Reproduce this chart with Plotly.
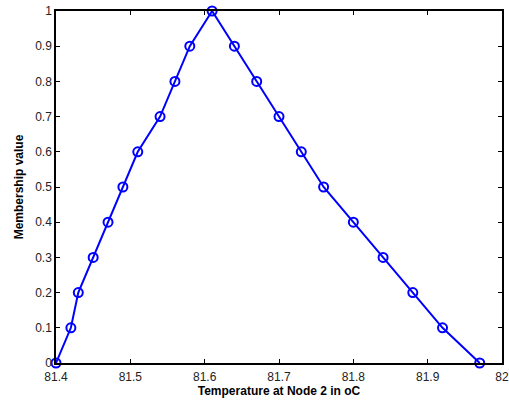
import plotly.graph_objects as go

temperature = [81.40, 81.42, 81.43, 81.45, 81.47, 81.49, 81.51, 81.54, 81.56, 81.58, 81.61,
               81.64, 81.67, 81.70, 81.73, 81.76, 81.80, 81.84, 81.88, 81.92, 81.97]
membership = [0.0, 0.1, 0.2, 0.3, 0.4, 0.5, 0.6, 0.7, 0.8, 0.9, 1.0,
              0.9, 0.8, 0.7, 0.6, 0.5, 0.4, 0.3, 0.2, 0.1, 0.0]

x_ticks = [81.4, 81.5, 81.6, 81.7, 81.8, 81.9, 82.0]
x_tick_labels = ["81.4", "81.5", "81.6", "81.7", "81.8", "81.9", "82"]
y_ticks = [0, 0.1, 0.2, 0.3, 0.4, 0.5, 0.6, 0.7, 0.8, 0.9, 1.0]
y_tick_labels = ["0", "0.1", "0.2", "0.3", "0.4", "0.5", "0.6", "0.7", "0.8", "0.9", "1"]

fig = go.Figure()
fig.add_trace(go.Scatter(
    x=temperature, y=membership, mode="lines+markers",
    line=dict(color="#0000FF", width=2),
    marker=dict(symbol="circle-open", size=9, color="#0000FF", line=dict(width=2)),
    cliponaxis=False, showlegend=False,
))

font = "Liberation Sans, Arial, sans-serif"
axis_common = dict(
    showline=True, linecolor="black", linewidth=1.5, mirror="ticks",
    ticks="inside", ticklen=4, tickcolor="black", tickwidth=1,
    showgrid=False, zeroline=False, automargin=False,
    tickfont=dict(family=font, size=12, color="#222"),
)
fig.update_layout(
    width=509, height=406,
    margin=dict(l=56, r=7, t=11, b=43),
    paper_bgcolor="white", plot_bgcolor="white",
    xaxis=dict(range=[81.4, 82.0], tickvals=x_ticks, ticktext=x_tick_labels,
               ticklabelstandoff=2,
               title=dict(text="<b>Temperature at Node 2 in oC</b>", standoff=2,
                          font=dict(family=font, size=12, color="black")),
               **axis_common),
    yaxis=dict(range=[0, 1], tickvals=y_ticks, ticktext=y_tick_labels,
               title=dict(text="<b>Membership value</b>", standoff=9,
                          font=dict(family=font, size=12, color="black")),
               **axis_common),
)
fig.write_html("out.html", config={"displayModeBar": False},
               post_script="document.body.style.margin='0';document.body.style.overflow='hidden';")
